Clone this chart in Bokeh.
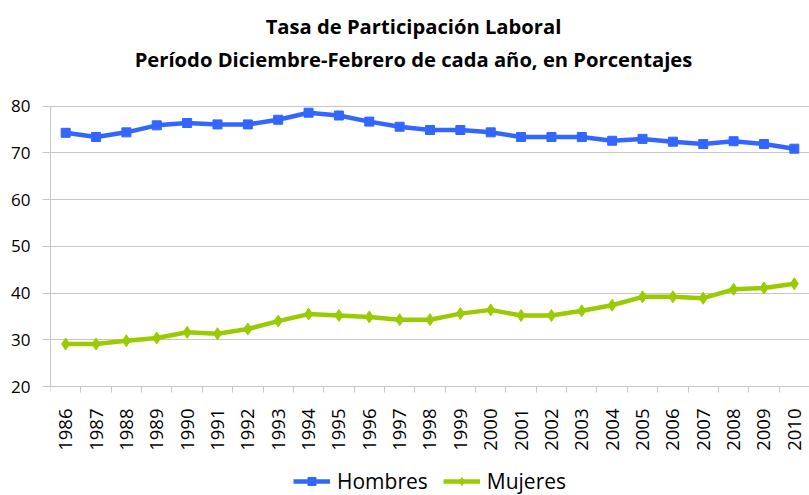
import math
from bokeh.plotting import figure
from bokeh.models import FixedTicker, Label, Legend, LegendItem, Range1d
from bokeh.embed import file_html
from bokeh.resources import INLINE

years = list(range(1986, 2011))
hombres = [74.3, 73.4, 74.4, 75.9, 76.4, 76.1, 76.1, 77.1, 78.6, 78.0, 76.7, 75.6,
           74.9, 74.9, 74.4, 73.4, 73.4, 73.4, 72.6, 73.0, 72.4, 71.9, 72.5, 71.9, 70.9]
mujeres = [29.1, 29.1, 29.8, 30.4, 31.6, 31.3, 32.3, 34.0, 35.5, 35.2, 34.9, 34.3,
           34.3, 35.6, 36.4, 35.2, 35.2, 36.2, 37.4, 39.2, 39.2, 38.9, 40.8, 41.1, 42.0]
y_ticks = [20, 30, 40, 50, 60, 70, 80]
title_1 = "Tasa de Participación Laboral"
title_2 = "Período Diciembre-Febrero de cada año, en Porcentajes"

BLUE = "#3366FF"
GREEN = "#99CC00"
GRID = "#c6c6c6"
FONT = "Open Sans"

# The frame spans the whole canvas height; the value axis covers 20..80
p = figure(width=809, height=495, output_backend="svg", toolbar_location=None, title=None,
           x_range=Range1d(years[0] - 0.5, years[-1] + 0.5),
           y_range=Range1d(-3.33, 102.62),
           min_border_left=50, min_border_right=0, min_border_top=0, min_border_bottom=0)

p.outline_line_color = None
p.background_fill_color = "white"
p.border_fill_color = "white"

# y axis
p.yaxis.ticker = FixedTicker(ticks=y_ticks)
p.yaxis.bounds = (y_ticks[0], y_ticks[-1])
p.yaxis.axis_line_color = GRID
p.yaxis.major_tick_line_color = GRID
p.yaxis.major_tick_out = 8
p.yaxis.major_tick_in = 0
p.yaxis.minor_tick_line_color = None
p.yaxis.major_label_text_font = FONT
p.yaxis.major_label_text_font_size = "17px"
p.yaxis.major_label_text_color = "#000000"
p.yaxis.major_label_standoff = 12
p.ygrid.grid_line_color = GRID
p.ygrid.ticker = FixedTicker(ticks=y_ticks)

# x axis, fixed at the bottom of the value scale
p.xaxis.fixed_location = y_ticks[0]
p.xaxis.ticker = FixedTicker(ticks=years, minor_ticks=[y - 0.5 for y in years] + [years[-1] + 0.5])
p.xaxis.axis_line_color = GRID
p.xaxis.major_tick_line_color = None
p.xaxis.major_tick_out = 0
p.xaxis.major_tick_in = 0
p.xaxis.minor_tick_line_color = GRID
p.xaxis.minor_tick_out = 6
p.xaxis.minor_tick_in = 0
p.xaxis.major_label_orientation = math.pi / 2
p.xaxis.major_label_text_font = FONT
p.xaxis.major_label_text_font_size = "18.5px"
p.xaxis.major_label_text_color = "#000000"
p.xaxis.major_label_standoff = 16
p.xgrid.grid_line_color = None

lh = p.line(years, hombres, line_color=BLUE, line_width=4.5)
mh = p.scatter(years, hombres, marker="square", size=9, fill_color=BLUE, line_color=BLUE)
lm = p.line(years, mujeres, line_color=GREEN, line_width=4.5)
mm = p.scatter(years, mujeres, marker="diamond", size=12, fill_color=GREEN, line_color=GREEN)

# titles
for txt, xs, ys in [(title_1, 363, 470), (title_2, 363, 437)]:
    p.add_layout(Label(x=xs, y=ys, x_units="screen", y_units="screen", text=txt,
                       text_align="center", text_baseline="middle", text_font=FONT,
                       text_font_size="20.2px", text_font_style="bold", text_color="#000000"))

legend = Legend(items=[LegendItem(label="Hombres", renderers=[lh, mh]),
                       LegendItem(label="Mujeres", renderers=[lm, mm])],
                orientation="horizontal", location=(243, 0),
                label_text_font=FONT, label_text_font_size="21px", label_text_color="#000000",
                glyph_width=37, glyph_height=20, spacing=15, label_standoff=7,
                border_line_color=None, background_fill_alpha=0, margin=0, padding=2)
p.add_layout(legend, "center")

open("out.html", "w").write(file_html(p, INLINE))
